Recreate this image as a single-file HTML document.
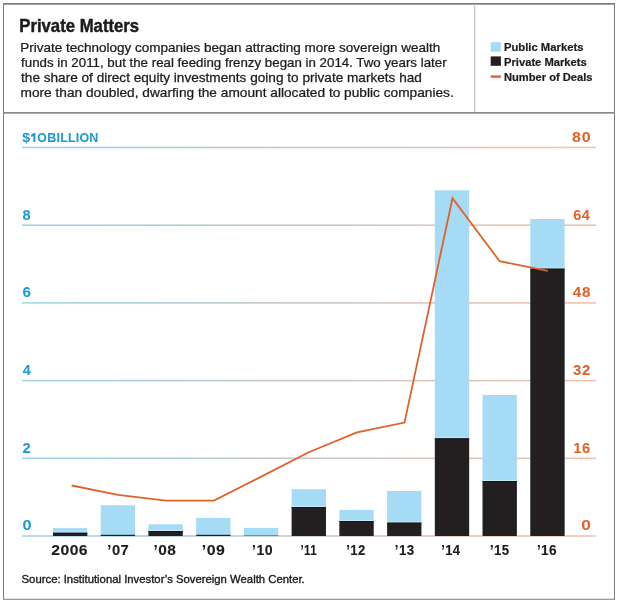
<!DOCTYPE html>
<html><head><meta charset="utf-8"><style>
html,body{margin:0;padding:0;background:#fff;width:620px;height:604px;overflow:hidden}
svg{display:block;will-change:transform;font-family:"Liberation Sans",sans-serif}
</style></head><body>
<svg width="620" height="604" viewBox="0 0 620 604">
<defs><linearGradient id="g" x1="22" y1="0" x2="596" y2="0" gradientUnits="userSpaceOnUse"><stop offset="0" stop-color="#a4d5ea"/><stop offset="0.22" stop-color="#aacdd8"/><stop offset="0.49" stop-color="#c8c8c8"/><stop offset="0.7" stop-color="#d8c7bd"/><stop offset="1" stop-color="#f2c4ad"/></linearGradient></defs>
<g id="gfx">
<rect x="3.5" y="3.75" width="611" height="595.5" fill="none" stroke="#7b7b7b" stroke-width="1"/>
<rect x="3" y="3" width="612" height="1.6" fill="#7b7b7b"/>
<rect x="3" y="112" width="612" height="1.7" fill="#8a8a8a"/>
<rect x="474" y="4" width="1.3" height="108" fill="#c6c6c6"/>
<rect x="490.7" y="42.2" width="10.2" height="9.5" fill="#a6dbf5"/>
<rect x="490.7" y="56.4" width="10.2" height="9.4" fill="#231f20"/>
<rect x="490.7" y="75.4" width="10.2" height="2.4" fill="#e0622b"/>
<rect x="22" y="146.70" width="574" height="1.6" fill="url(#g)"/>
<rect x="22" y="224.40" width="574" height="1.6" fill="url(#g)"/>
<rect x="22" y="302.10" width="574" height="1.6" fill="url(#g)"/>
<rect x="22" y="379.80" width="574" height="1.6" fill="url(#g)"/>
<rect x="22" y="457.50" width="574" height="1.6" fill="url(#g)"/>
<rect x="22" y="535.20" width="574" height="1.6" fill="url(#g)"/>
<rect x="53.00" y="528.1" width="34.3" height="7.90" fill="#a6dbf5"/>
<rect x="53.00" y="532.7" width="34.3" height="3.30" fill="#231f20"/>
<rect x="53.00" y="531.70" width="34.3" height="0.9" fill="#c9ecfb"/>
<rect x="53.00" y="532.70" width="34.3" height="0.9" fill="#141213"/>
<rect x="100.73" y="505.2" width="34.3" height="30.80" fill="#a6dbf5"/>
<rect x="100.73" y="534.8" width="34.3" height="1.20" fill="#231f20"/>
<rect x="148.46" y="524.3" width="34.3" height="11.70" fill="#a6dbf5"/>
<rect x="148.46" y="531.1" width="34.3" height="4.90" fill="#231f20"/>
<rect x="148.46" y="530.10" width="34.3" height="0.9" fill="#c9ecfb"/>
<rect x="148.46" y="531.10" width="34.3" height="0.9" fill="#141213"/>
<rect x="196.19" y="517.9" width="34.3" height="18.10" fill="#a6dbf5"/>
<rect x="196.19" y="534.8" width="34.3" height="1.20" fill="#231f20"/>
<rect x="243.92" y="527.9" width="34.3" height="8.10" fill="#a6dbf5"/>
<rect x="243.92" y="535.6" width="34.3" height="0.40" fill="#231f20"/>
<rect x="291.65" y="489.2" width="34.3" height="46.80" fill="#a6dbf5"/>
<rect x="291.65" y="507.1" width="34.3" height="28.90" fill="#231f20"/>
<rect x="291.65" y="506.10" width="34.3" height="0.9" fill="#c9ecfb"/>
<rect x="291.65" y="507.10" width="34.3" height="0.9" fill="#141213"/>
<rect x="339.38" y="509.9" width="34.3" height="26.10" fill="#a6dbf5"/>
<rect x="339.38" y="521.1" width="34.3" height="14.90" fill="#231f20"/>
<rect x="339.38" y="520.10" width="34.3" height="0.9" fill="#c9ecfb"/>
<rect x="339.38" y="521.10" width="34.3" height="0.9" fill="#141213"/>
<rect x="387.11" y="491.0" width="34.3" height="45.00" fill="#a6dbf5"/>
<rect x="387.11" y="522.6" width="34.3" height="13.40" fill="#231f20"/>
<rect x="387.11" y="521.60" width="34.3" height="0.9" fill="#c9ecfb"/>
<rect x="387.11" y="522.60" width="34.3" height="0.9" fill="#141213"/>
<rect x="434.84" y="190.3" width="34.3" height="345.70" fill="#a6dbf5"/>
<rect x="434.84" y="438.3" width="34.3" height="97.70" fill="#231f20"/>
<rect x="434.84" y="437.30" width="34.3" height="0.9" fill="#c9ecfb"/>
<rect x="434.84" y="438.30" width="34.3" height="0.9" fill="#141213"/>
<rect x="482.57" y="395.0" width="34.3" height="141.00" fill="#a6dbf5"/>
<rect x="482.57" y="481.0" width="34.3" height="55.00" fill="#231f20"/>
<rect x="482.57" y="480.00" width="34.3" height="0.9" fill="#c9ecfb"/>
<rect x="482.57" y="481.00" width="34.3" height="0.9" fill="#141213"/>
<rect x="530.30" y="219.0" width="34.3" height="317.00" fill="#a6dbf5"/>
<rect x="530.30" y="268.6" width="34.3" height="267.40" fill="#231f20"/>
<rect x="530.30" y="267.60" width="34.3" height="0.9" fill="#c9ecfb"/>
<rect x="530.30" y="268.60" width="34.3" height="0.9" fill="#141213"/>
<polyline points="71.7,485.5 118.0,494.8 166.0,500.6 214.0,500.6 261.2,476.6 308.8,452.2 357.0,432.4 404.5,422.6 452.5,198.2 499.6,261.2 547.9,270.8" fill="none" stroke="#e0622b" stroke-width="1.8" stroke-linejoin="miter"/>
<path d="M31.1,134.9 L33.6,133.1 L35.4,133.1 L35.4,142.0 L33.4,142.0 L33.4,136.1 L31.1,137.0 Z" fill="#1b9ad6"/>
</g>
<text id="title" x="0" y="31.7" font-size="17.5" font-weight="bold" fill="#1c1a1b" stroke="#1c1a1b" stroke-width="0.45" transform="matrix(0.9559 0 0 1 19.239 0)">Private Matters</text>
<text id="b0" x="0" y="52.2" font-size="12.6" fill="#1c1a1b" stroke="#1c1a1b" stroke-width="0.25" transform="matrix(1.0715 0 0 1 20.239 0)">Private technology companies began attracting more sovereign wealth</text>
<text id="b1" x="0" y="67.2" font-size="12.6" fill="#1c1a1b" stroke="#1c1a1b" stroke-width="0.25" transform="matrix(1.0566 0 0 1 21.035 0)">funds in 2011, but the real feeding frenzy began in 2014. Two years later</text>
<text id="b2" x="0" y="82.3" font-size="12.6" fill="#1c1a1b" stroke="#1c1a1b" stroke-width="0.25" transform="matrix(1.0807 0 0 1 21.029 0)">the share of direct equity investments going to private markets had</text>
<text id="b3" x="0" y="97.2" font-size="12.6" fill="#1c1a1b" stroke="#1c1a1b" stroke-width="0.25" transform="matrix(1.0878 0 0 1 20.501 0)">more than doubled, dwarfing the amount allocated to public companies.</text>
<text id="l0" x="0" y="50.9" font-size="10.3" font-weight="bold" fill="#1c1a1b" stroke="#1c1a1b" stroke-width="0.2" transform="matrix(1.0937 0 0 1 503.980 0)">Public Markets</text>
<text id="l1" x="0" y="65.8" font-size="10.3" font-weight="bold" fill="#1c1a1b" stroke="#1c1a1b" stroke-width="0.2" transform="matrix(1.0891 0 0 1 503.983 0)">Private Markets</text>
<text id="l2" x="0" y="80.6" font-size="10.3" font-weight="bold" fill="#1c1a1b" stroke="#1c1a1b" stroke-width="0.2" transform="matrix(1.0820 0 0 1 503.988 0)">Number of Deals</text>
<text id="yl0" x="0" y="142.0" font-size="12.8" font-weight="bold" fill="#1b9ad6" letter-spacing="0.4" stroke="#1b9ad6" stroke-width="0.05" transform="matrix(1.1129 0 0 1 22.350 0)">$</text>
<text id="ylO" x="0" y="142.0" font-size="12.8" font-weight="bold" fill="#1b9ad6" stroke="#1b9ad6" stroke-width="0.05" transform="matrix(0.9501 0 0 1 37.162 0)">O</text>
<text id="ylB" x="0" y="142.0" font-size="12.8" font-weight="bold" fill="#1b9ad6" letter-spacing="0.2" stroke="#1b9ad6" stroke-width="0.05" transform="matrix(0.9727 0 0 1 47.336 0)">BILLION</text>
<text id="yr0" x="0" y="142.0" font-size="14.0" font-weight="bold" fill="#e0622b" letter-spacing="0.6" stroke="#e0622b" stroke-width="0.05" transform="matrix(1.1437 0 0 1 572.115 0)">80</text>
<text id="yl1" x="0" y="219.7" font-size="14.0" font-weight="bold" fill="#1b9ad6" stroke="#1b9ad6" stroke-width="0.05" transform="matrix(1.0390 0 0 1 22.496 0)">8</text>
<text id="yr1" x="0" y="219.7" font-size="14.0" font-weight="bold" fill="#e0622b" letter-spacing="0.6" stroke="#e0622b" stroke-width="0.05" transform="matrix(1.0309 0 0 1 573.147 0)">64</text>
<text id="yl2" x="0" y="297.4" font-size="14.0" font-weight="bold" fill="#1b9ad6" stroke="#1b9ad6" stroke-width="0.05" transform="matrix(1.0766 0 0 1 22.462 0)">6</text>
<text id="yr2" x="0" y="297.4" font-size="14.0" font-weight="bold" fill="#e0622b" letter-spacing="0.6" stroke="#e0622b" stroke-width="0.05" transform="matrix(1.0901 0 0 1 572.792 0)">48</text>
<text id="yl3" x="0" y="375.1" font-size="14.0" font-weight="bold" fill="#1b9ad6" stroke="#1b9ad6" stroke-width="0.05" transform="matrix(1.0255 0 0 1 22.680 0)">4</text>
<text id="yr3" x="0" y="375.1" font-size="14.0" font-weight="bold" fill="#e0622b" letter-spacing="0.6" stroke="#e0622b" stroke-width="0.05" transform="matrix(1.0716 0 0 1 572.992 0)">32</text>
<text id="yl4" x="0" y="452.8" font-size="14.0" font-weight="bold" fill="#1b9ad6" stroke="#1b9ad6" stroke-width="0.05" transform="matrix(1.0548 0 0 1 22.537 0)">2</text>
<text id="yr4" x="0" y="452.8" font-size="14.0" font-weight="bold" fill="#e0622b" letter-spacing="0.6" stroke="#e0622b" stroke-width="0.05" transform="matrix(1.0561 0 0 1 573.145 0)">16</text>
<text id="yl5" x="0" y="530.5" font-size="14.0" font-weight="bold" fill="#1b9ad6" stroke="#1b9ad6" stroke-width="0.05" transform="matrix(1.1634 0 0 1 22.383 0)">0</text>
<text id="yr5" x="0" y="530.5" font-size="14.0" font-weight="bold" fill="#e0622b" letter-spacing="0.6" stroke="#e0622b" stroke-width="0.05" transform="matrix(1.2329 0 0 1 581.201 0)">0</text>
<text id="x0" x="0" y="555.0" font-size="13.9" font-weight="bold" fill="#1c1a1b" letter-spacing="0.4" stroke="#1c1a1b" stroke-width="0.1" transform="matrix(1.1315 0 0 1 51.288 0)">2006</text>
<text id="x1" x="0" y="555.0" font-size="13.9" font-weight="bold" fill="#1c1a1b" letter-spacing="0.4" stroke="#1c1a1b" stroke-width="0.1" transform="matrix(1.0655 0 0 1 107.365 0)">’07</text>
<text id="x2" x="0" y="555.0" font-size="13.9" font-weight="bold" fill="#1c1a1b" letter-spacing="0.4" stroke="#1c1a1b" stroke-width="0.1" transform="matrix(1.1096 0 0 1 153.533 0)">’08</text>
<text id="x3" x="0" y="555.0" font-size="13.9" font-weight="bold" fill="#1c1a1b" letter-spacing="0.4" stroke="#1c1a1b" stroke-width="0.1" transform="matrix(1.1466 0 0 1 201.769 0)">’09</text>
<text id="x4" x="0" y="555.0" font-size="13.9" font-weight="bold" fill="#1c1a1b" letter-spacing="0.4" stroke="#1c1a1b" stroke-width="0.1" transform="matrix(1.0184 0 0 1 252.097 0)">’10</text>
<text id="x5" x="0" y="555.0" font-size="13.9" font-weight="bold" fill="#1c1a1b" letter-spacing="0.4" stroke="#1c1a1b" stroke-width="0.1" transform="matrix(0.8360 0 0 1 300.443 0)">’11</text>
<text id="x6" x="0" y="555.0" font-size="13.9" font-weight="bold" fill="#1c1a1b" letter-spacing="0.4" stroke="#1c1a1b" stroke-width="0.1" transform="matrix(0.9413 0 0 1 346.360 0)">’12</text>
<text id="x7" x="0" y="555.0" font-size="13.9" font-weight="bold" fill="#1c1a1b" letter-spacing="0.4" stroke="#1c1a1b" stroke-width="0.1" transform="matrix(0.9571 0 0 1 394.832 0)">’13</text>
<text id="x8" x="0" y="555.0" font-size="13.9" font-weight="bold" fill="#1c1a1b" letter-spacing="0.4" stroke="#1c1a1b" stroke-width="0.1" transform="matrix(0.9401 0 0 1 441.167 0)">’14</text>
<text id="x9" x="0" y="555.0" font-size="13.9" font-weight="bold" fill="#1c1a1b" letter-spacing="0.4" stroke="#1c1a1b" stroke-width="0.1" transform="matrix(0.9537 0 0 1 490.030 0)">’15</text>
<text id="x10" x="0" y="555.0" font-size="13.9" font-weight="bold" fill="#1c1a1b" letter-spacing="0.4" stroke="#1c1a1b" stroke-width="0.1" transform="matrix(0.9796 0 0 1 536.934 0)">’16</text>
<text id="src" x="0" y="583.5" font-size="11" fill="#1c1a1b" stroke="#1c1a1b" stroke-width="0.35" transform="matrix(1.0301 0 0 1 21.567 0)">Source: Institutional Investor’s Sovereign Wealth Center.</text>
</svg>
</body></html>
